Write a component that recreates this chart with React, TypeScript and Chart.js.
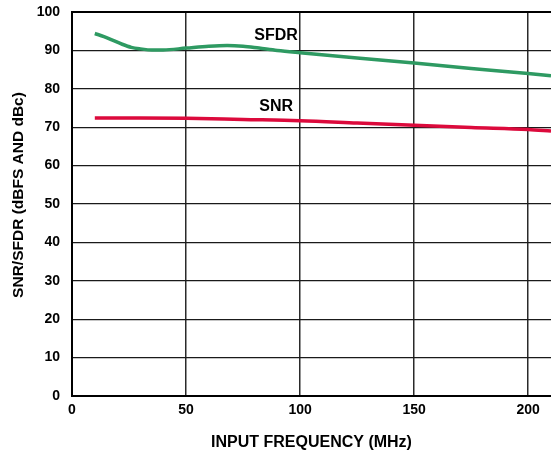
import React, { useEffect, useRef } from "react";
import { Chart, registerables } from "chart.js";

Chart.register(...registerables);

const sfdrFreq = [10, 14, 18, 22, 26, 30, 35, 40, 50, 60, 68, 75, 82, 90, 100, 125, 150, 175, 200, 210];
const sfdrValues = [94.4, 93.6, 92.6, 91.6, 90.8, 90.4, 90.1, 90.1, 90.6, 91.1, 91.3, 91.1, 90.6, 90.0, 89.4, 88.0, 86.7, 85.3, 84.0, 83.4];

const snrFreq = [10, 30, 50, 75, 100, 125, 150, 175, 200, 210];
const snrValues = [72.4, 72.4, 72.3, 72.0, 71.7, 71.1, 70.5, 69.9, 69.4, 69.0];

const xTicks = [0, 50, 100, 150, 200];
const seriesLabels = [
  { text: "SFDR", x: 99, y: 93.8 },
  { text: "SNR", x: 96.9, y: 75.4 },
];

const FONT = '"Liberation Sans", Arial, Helvetica, sans-serif';

const titlePlugin = {
  id: "customTitles",
  afterDraw(chart: any) {
    const ctx = chart.ctx;
    const xs = chart.scales.x;
    const ys = chart.scales.y;
    const area = chart.chartArea;
    ctx.save();
    ctx.fillStyle = "#000";
    ctx.textBaseline = "middle";
    ctx.font = `bold 16px ${FONT}`;
    ctx.textAlign = "right";
    for (const l of seriesLabels) {
      ctx.fillText(l.text, xs.getPixelForValue(l.x), ys.getPixelForValue(l.y));
    }
    ctx.font = `bold 16px ${FONT}`;
    ctx.textAlign = "center";
    ctx.fillText("INPUT FREQUENCY (MHz)", (xs.left + xs.right) / 2, chart.height - 9);
    ctx.font = `bold 15.5px ${FONT}`;
    ctx.translate(19, (area.top + area.bottom) / 2 - 9);
    ctx.rotate(-Math.PI / 2);
    ctx.fillText("SNR/SFDR (dBFS AND dBc)", 0, 0);
    ctx.restore();
  },
};

export default function App() {
  const ref = useRef<HTMLCanvasElement>(null);
  useEffect(() => {
    document.body.style.margin = "0";
    const canvas = ref.current!;
    const chart = new Chart(canvas, {
      type: "line",
      data: {
        datasets: [
          {
            label: "SFDR",
            data: sfdrFreq.map((f, i) => ({ x: f, y: sfdrValues[i] })),
            borderColor: "#2E9A62",
            borderWidth: 3.5,
            pointRadius: 0,
            cubicInterpolationMode: "monotone",
            fill: false,
          },
          {
            label: "SNR",
            data: snrFreq.map((f, i) => ({ x: f, y: snrValues[i] })),
            borderColor: "#DC0A3C",
            borderWidth: 3.5,
            pointRadius: 0,
            cubicInterpolationMode: "monotone",
            fill: false,
          },
        ],
      },
      options: {
        responsive: false,
        animation: false,
        layout: { padding: { top: 12, left: 0, right: 0, bottom: 0 } },
        plugins: { legend: { display: false }, tooltip: { enabled: false } },
        scales: {
          x: {
            type: "linear",
            min: 0,
            max: 210,
            afterBuildTicks: (s: any) => {
              s.ticks = xTicks.map((v) => ({ value: v }));
            },
            afterFit: (s: any) => {
              s.height = 56;
              s.paddingLeft = 0;
              s.paddingRight = 0;
            },
            grid: { drawTicks: false, color: "#2a2a2a", lineWidth: 1.5 },
            border: { display: true, color: "#000", width: 2 },
            ticks: {
              padding: 6,
              color: "#000",
              font: { family: FONT, size: 14, weight: "bold" },
              maxRotation: 0,
            },
          },
          y: {
            min: 0,
            max: 100,
            afterFit: (s: any) => {
              s.width = 72;
              s.paddingTop = 0;
              s.paddingBottom = 0;
            },
            grid: {
              drawTicks: false,
              color: (c: any) => (c.tick && c.tick.value === 100 ? "#000" : "#1a1a1a"),
              lineWidth: (c: any) => (c.tick && c.tick.value === 100 ? 2 : 1.3),
            },
            border: { display: true, color: "#000", width: 2 },
            ticks: {
              stepSize: 10,
              padding: 12,
              color: "#000",
              font: { family: FONT, size: 14, weight: "bold" },
            },
          },
        },
      } as any,
      plugins: [titlePlugin],
    });
    return () => chart.destroy();
  }, []);
  return (
    <div style={{ width: 551, height: 452 }}>
      <canvas ref={ref} width={551} height={452} style={{ display: "block" }} />
    </div>
  );
}
